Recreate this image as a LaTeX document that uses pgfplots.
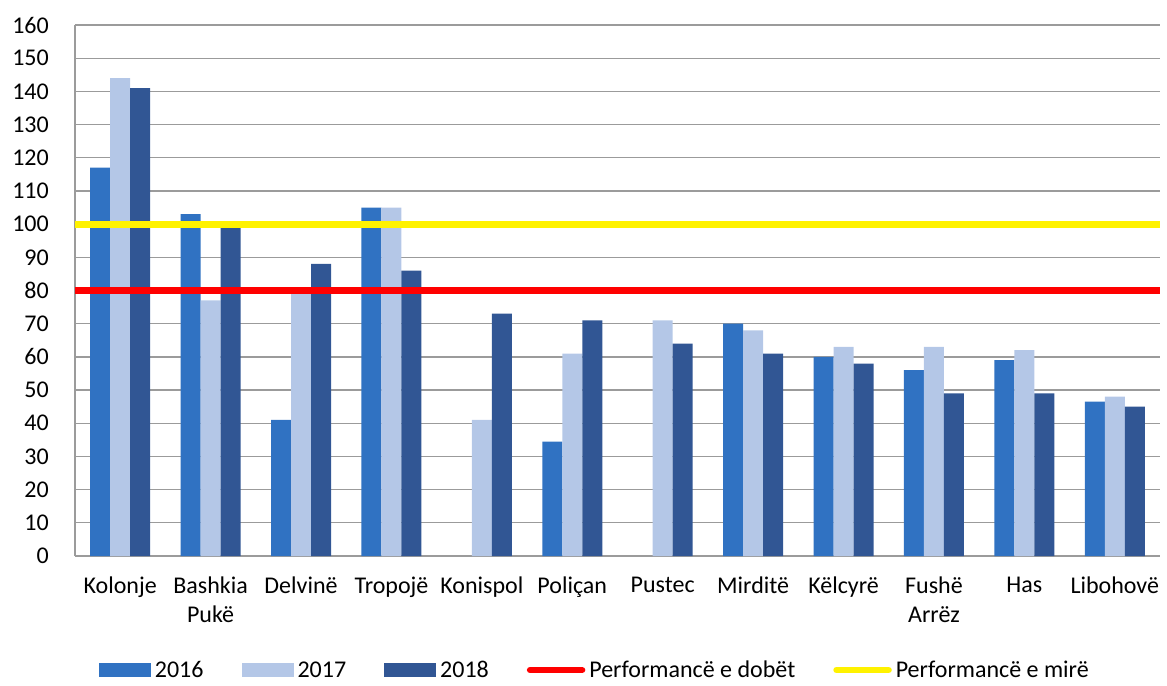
\documentclass[border=0pt]{standalone}
\usepackage{fontspec}
\setmainfont{Carlito}
\usepackage{pgfplots}
\pgfplotsset{compat=1.18}
\definecolor{cA}{RGB}{48,114,194}
\definecolor{cB}{RGB}{180,199,231}
\definecolor{cC}{RGB}{49,86,148}
\definecolor{gridc}{RGB}{155,155,155}
\pgfplotsset{
 barleg/.style={legend image code/.code={\fill[#1] (0pt,-7pt) rectangle (52pt,7pt);}},
 lineleg/.style={legend image code/.code={\draw[#1,line width=6.5pt,line cap=round] (0pt,0pt) -- (52pt,0pt);}},
}
\begin{document}
\begin{tikzpicture}
\begin{axis}[
 scale only axis, width=1085pt, height=531pt,
 xmin=-0.5, xmax=11.5, ymin=0, ymax=160,
 ytick={0,10,...,160},
 xtick={0,...,11},
 xticklabels={Kolonje, Bashkia\\Pukë, Delvinë, Tropojë, Konispol, Poliçan, Pustec, Mirditë, Këlcyrë, Fushë\\Arrëz, Has, Libohovë},
 ybar=0pt, bar width=20pt,
 axis x line*=bottom, axis y line*=left,
 axis line style={-, draw=gridc, line width=1.5pt},
 major tick length=0pt,
 ymajorgrids, major grid style={draw=gridc, line width=1.3pt},
 tick label style={font=\fontsize{24}{29}\selectfont},
 /pgf/number format/assume math mode=true,
 yticklabel style={inner sep=0pt, xshift=-26pt},
 xticklabel style={align=center, anchor=north, inner sep=0pt, yshift=-21pt},
 legend columns=5,
 legend cell align=left,
 legend style={at={(axis description cs:0.480,-0.2147)}, anchor=center, draw=none, fill=none,
   font=\fontsize{24}{29}\selectfont,
   /tikz/every even column/.append style={column sep=34pt},
   nodes={inner sep=4pt}},
]
\addplot[fill=cA, draw=none, barleg=cA] coordinates {(0,117)(1,103)(2,41)(3,105)(5,34.5)(7,70)(8,60)(9,56)(10,59)(11,46.5)};
\addlegendentry{2016}
\addplot[fill=cB, draw=none, barleg=cB] coordinates {(0,144)(1,77)(2,79)(3,105)(4,41)(5,61)(6,71)(7,68)(8,63)(9,63)(10,62)(11,48)};
\addlegendentry{2017}
\addplot[fill=cC, draw=none, barleg=cC] coordinates {(0,141)(1,99)(2,88)(3,86)(4,73)(5,71)(6,64)(7,61)(8,58)(9,49)(10,49)(11,45)};
\addlegendentry{2018}
\addplot[sharp plot, draw=red, line width=7pt, lineleg=red] coordinates {(-0.5,80)(11.5,80)};
\addlegendentry{Performancë e dobët}
\addplot[sharp plot, draw=yellow, line width=7pt, lineleg=yellow] coordinates {(-0.5,100)(11.5,100)};
\addlegendentry{Performancë e mirë}
\end{axis}
\path (-75pt,-122pt) rectangle (1092pt,556pt);
\end{tikzpicture}
\end{document}
